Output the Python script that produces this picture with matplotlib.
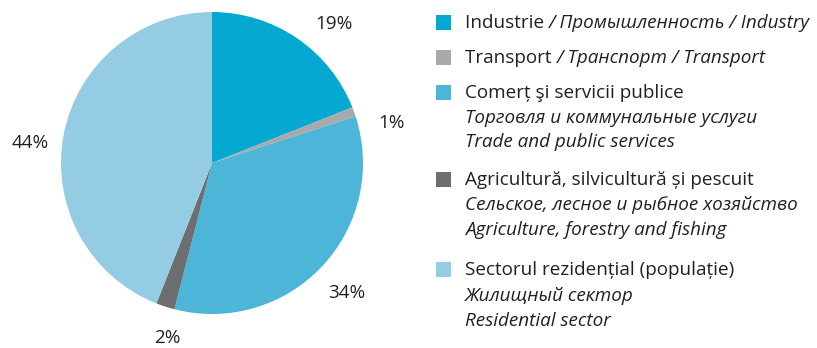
import matplotlib
matplotlib.use("Agg")
import matplotlib.pyplot as plt

# Energy consumption by sector, shares in percent
sectors = ["Industrie", "Transport", "Comerț", "Agricultură", "Rezidențial"]
shares = [19, 1, 34, 2, 44]
colors = ["#05a8d0", "#a7a9ac", "#4db6d8", "#6d6e71", "#94cce4"]
pct_labels = ["19%", "1%", "34%", "2%", "44%"]

# Legend entries: (upright part, italic part) per line
legend_lines = [
    [("Industrie ", "/ Промышленность / Industry")],
    [("Transport ", "/ Транспорт / Transport")],
    [("Comerț şi servicii publice", ""),
     ("", "Торговля и коммунальные услуги"),
     ("", "Trade and public services")],
    [("Agricultură, silvicultură și pescuit", ""),
     ("", "Сельское, лесное и рыбное хозяйство"),
     ("", "Agriculture, forestry and fishing")],
    [("Sectorul rezidențial (populație)", ""),
     ("", "Жилищный сектор"),
     ("", "Residential sector")],
]

W, H = 817, 348
FONT = "Open Sans"
FS = 13.6
TXT = "#231f20"

fig = plt.figure(figsize=(W / 100, H / 100), dpi=100)

def fx(px):
    return px / W

def fy(py):
    return 1 - py / H

# Pie axes
cx, cy, r = 212, 163, 151
ax = fig.add_axes([fx(cx - r), fy(cy + r), 2 * r / W, 2 * r / H])
ax.pie(shares, colors=colors, startangle=90, counterclock=False,
       wedgeprops=dict(linewidth=0))
ax.set_xlim(-1, 1)
ax.set_ylim(-1, 1)
ax.set_aspect("auto")
ax.axis("off")

# Percentage labels
pct_pos = [(334, 24), (392, 123), (347, 293), (167, 338), (30, 143)]
for lab, (px, py) in zip(pct_labels, pct_pos):
    fig.text(fx(px), fy(py), lab, ha="center", va="center",
             fontsize=FS, family=FONT, color=TXT)

# Legend
group_y = [[23], [58], [93, 118, 142], [180, 205, 230], [270, 296, 321]]
sq = 15
tx = 465
renderer = fig.canvas.get_renderer()
for col, lines, ys in zip(colors, legend_lines, group_y):
    y0 = ys[0]
    fig.patches.append(plt.Rectangle((fx(436), fy(y0 + sq / 2 - 0.5)), sq / W, sq / H,
                                     transform=fig.transFigure, facecolor=col,
                                     edgecolor="none"))
    for (up, it), y in zip(lines, ys):
        x = tx
        if up:
            t = fig.text(fx(x), fy(y), up, ha="left", va="center",
                         fontsize=FS, family=FONT, color=TXT)
            bb = t.get_window_extent(renderer=renderer)
            x += bb.width
        if it:
            fig.text(fx(x), fy(y), it, ha="left", va="center", style="italic",
                     fontsize=FS, family=FONT, color=TXT)

fig.savefig("out.png", dpi=100)
